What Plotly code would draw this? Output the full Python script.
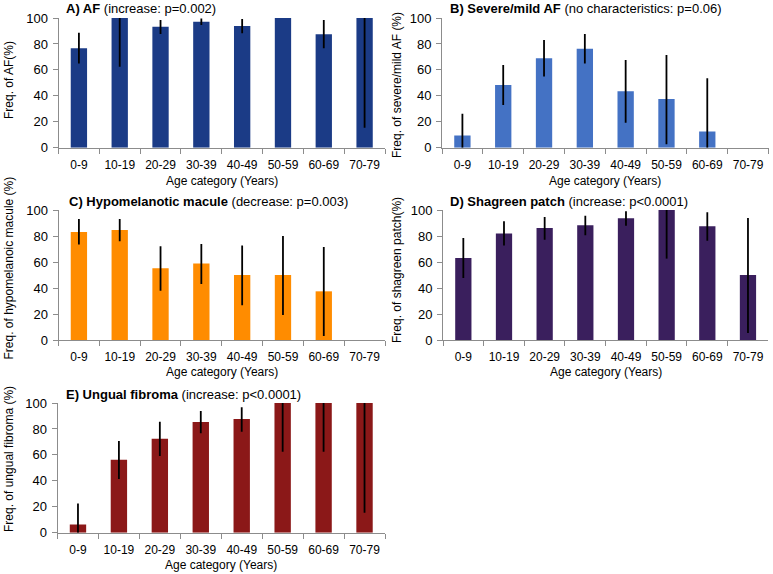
import plotly.graph_objects as go

W, H = 773, 574

categories = ["0-9", "10-19", "20-29", "30-39", "40-49", "50-59", "60-69", "70-79"]
y_ticks = [0, 20, 40, 60, 80, 100]

# A) AF
af_vals = [76.6, 100, 93.3, 97.2, 93.8, 100, 87.5, 100]
af_lo = [65.0, 62.5, 87.7, 94.6, 88.2, 100, 76.6, 15.4]
af_hi = [88.7, 100, 98.5, 99.7, 99.2, 100, 98.5, 100]

# B) Severe/mild AF
sev_vals = [9.5, 48.4, 69.0, 76.2, 43.5, 37.5, 12.5, 0]
sev_lo = [0, 32.9, 54.8, 65.0, 19.3, 2.6, 0, 0]
sev_hi = [26.2, 63.8, 83.0, 87.7, 67.6, 71.5, 53.5, 0]

# C) Hypomelanotic macule
hyp_vals = [83.3, 84.8, 55.3, 58.9, 50.0, 50.0, 37.5, 0]
hyp_lo = [73.5, 76.1, 38.0, 43.2, 26.7, 19.3, 3.1, 0]
hyp_hi = [93.3, 93.3, 72.2, 74.0, 72.8, 80.2, 71.7, 0]

# D) Shagreen patch
sha_vals = [63.1, 82.0, 86.2, 88.2, 93.6, 100, 87.5, 50.0]
sha_lo = [47.7, 72.6, 77.2, 80.5, 87.9, 62.6, 76.4, 5.4]
sha_hi = [78.5, 91.3, 94.6, 95.6, 99.0, 100, 98.2, 93.8]

# E) Ungual fibroma
ung_vals = [6.4, 56.3, 72.5, 85.3, 87.7, 100, 100, 100]
ung_lo = [0, 41.4, 59.1, 76.6, 77.9, 62.5, 62.5, 15.4]
ung_hi = [22.6, 70.7, 85.6, 93.8, 96.7, 100, 100, 100]

FONT = "Arial, Liberation Sans, sans-serif"

panels = [
    dict(vals=af_vals, lo=af_lo, hi=af_hi, color="#1b3b86",
         x0=58.5, x1=385, ytop=18, ybot=147.7,
         title="<b>A) AF</b> (increase: p=0.002)", tpos=(64, 9),
         ytitle="Freq. of AF(%)", ypos=(9, 80), xpos=(221.7, 181)),
    dict(vals=sev_vals, lo=sev_lo, hi=sev_hi, color="#4472c4",
         x0=442, x1=768.5, ytop=18, ybot=147.7,
         title="<b>B) Severe/mild AF</b> (no characteristics: p=0.06)", tpos=(448, 8.5),
         ytitle="Freq. of severe/mild AF (%)", ypos=(397, 85), xpos=(605, 181)),
    dict(vals=hyp_vals, lo=hyp_lo, hi=hyp_hi, color="#ff8c00",
         x0=58.5, x1=385, ytop=210.2, ybot=340,
         title="<b>C) Hypomelanotic macule</b> (decrease: p=0.003)", tpos=(66.7, 201.5),
         ytitle="Freq. of hypomelanoic macule (%)", ypos=(8.5, 268), xpos=(221.7, 371.5)),
    dict(vals=sha_vals, lo=sha_lo, hi=sha_hi, color="#3a1f5d",
         x0=443, x1=768.3, ytop=210, ybot=340,
         title="<b>D) Shagreen patch</b> (increase: p<0.0001)", tpos=(448, 201.5),
         ytitle="Freq. of shagreen patch(%)", ypos=(397, 270), xpos=(605.5, 371.5)),
    dict(vals=ung_vals, lo=ung_lo, hi=ung_hi, color="#8b1818",
         x0=57.5, x1=385, ytop=403, ybot=532.7,
         title="<b>E) Ungual fibroma</b> (increase: p<0.0001)", tpos=(64, 394),
         ytitle="Freq. of ungual fibroma (%)", ypos=(9, 459), xpos=(221, 565)),
]


def px(x):
    return x / W


def py(y):
    return 1 - y / H


fig = go.Figure()
annotations = []
layout_axes = {}

for i, p in enumerate(panels, start=1):
    sfx = "" if i == 1 else str(i)
    err_plus = [h - v for h, v in zip(p["hi"], p["vals"])]
    err_minus = [v - l for v, l in zip(p["vals"], p["lo"])]
    fig.add_trace(go.Bar(
        x=categories, y=p["vals"], width=0.4,
        marker=dict(color=p["color"], line=dict(width=0)),
        error_y=dict(type="data", symmetric=False, array=err_plus, arrayminus=err_minus,
                     color="black", thickness=1.8, width=0),
        xaxis="x" + sfx, yaxis="y" + sfx, showlegend=False, hoverinfo="skip",
    ))
    layout_axes["xaxis" + sfx] = dict(
        domain=[px(p["x0"]), px(p["x1"])], anchor="y" + sfx, automargin=False,
        type="category", categoryorder="array", categoryarray=categories,
        range=[-0.5, 7.5], showgrid=False, zeroline=False,
        showline=True, linecolor="#8c8c8c", linewidth=1,
        ticks="outside", tickson="boundaries", ticklen=5, tickcolor="#8c8c8c",
        ticklabelstandoff=6,
        tickfont=dict(family=FONT, size=12, color="black"),
    )
    layout_axes["yaxis" + sfx] = dict(
        domain=[py(p["ybot"]), py(p["ytop"])], anchor="x" + sfx, automargin=False,
        range=[0, 100], tickvals=y_ticks, showgrid=False, zeroline=False,
        showline=True, linecolor="#8c8c8c", linewidth=1,
        ticks="outside", ticklen=5, tickcolor="#8c8c8c",
        ticklabelstandoff=2,
        tickfont=dict(family=FONT, size=13, color="black"),
    )
    annotations.append(dict(
        text=p["title"], x=px(p["tpos"][0]), y=py(p["tpos"][1]),
        xref="paper", yref="paper", xanchor="left", yanchor="middle",
        showarrow=False, font=dict(family=FONT, size=13, color="black")))
    annotations.append(dict(
        text=p["ytitle"], x=px(p["ypos"][0]), y=py(p["ypos"][1]),
        xref="paper", yref="paper", xanchor="center", yanchor="middle", textangle=-90,
        showarrow=False, font=dict(family=FONT, size=12, color="black")))
    annotations.append(dict(
        text="Age category (Years)", x=px(p["xpos"][0]), y=py(p["xpos"][1]),
        xref="paper", yref="paper", xanchor="center", yanchor="middle",
        showarrow=False, font=dict(family=FONT, size=12, color="black")))

fig.update_layout(
    width=W, height=H,
    margin=dict(l=0, r=0, t=0, b=0, autoexpand=False),
    paper_bgcolor="white", plot_bgcolor="white",
    annotations=annotations,
    font=dict(family=FONT, size=12, color="black"),
    **layout_axes,
)

fig.write_html(
    "out.html",
    config={"displayModeBar": False},
    post_script="document.body.style.margin='0px';document.body.style.padding='0px';"
                "document.body.style.overflow='hidden';",
)
